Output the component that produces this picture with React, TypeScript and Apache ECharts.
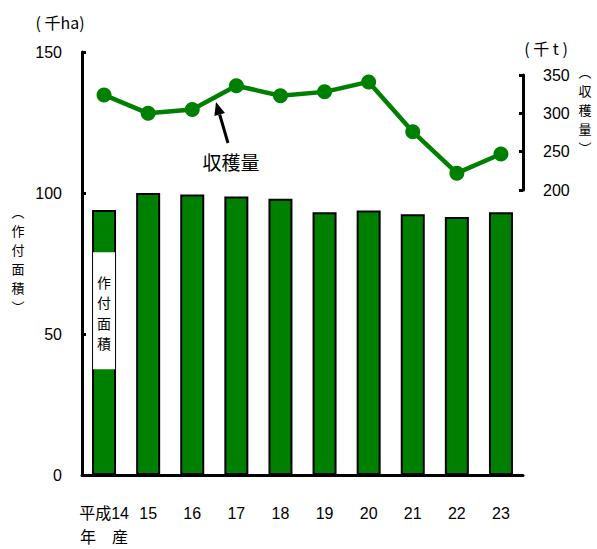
import React, { useEffect, useRef } from "react";
import * as echarts from "echarts";

const categories = ["14", "15", "16", "17", "18", "19", "20", "21", "22", "23"];
const areaValues = [94, 100, 99.5, 98.8, 98, 93.2, 93.8, 92.5, 91.5, 93.2];
const harvestValues = [324, 300, 305, 336, 323, 328, 341, 276, 222, 247];
const leftTicks = { min: 0, max: 150, interval: 50 };
const rightTicks = { min: 200, max: 350, interval: 50 };
const boxRange = [79, 37.5];

const FONT = "'Liberation Sans', 'Noto Sans CJK JP', sans-serif";
const CJK = "'Noto Sans CJK JP', sans-serif";
const GREEN = "#008000";

export default function App() {
  const ref = useRef<HTMLDivElement>(null);
  useEffect(() => {
    if (!ref.current) return;
    const chart = echarts.init(ref.current, null, { renderer: "svg" });
    const option: any = {
      animation: false,
      textStyle: { fontFamily: FONT, color: "#000" },
      grid: [
        { left: 82, right: 74, top: 52, bottom: 69 },
        { left: 82, right: 74, top: 75, height: 115 },
      ],
      xAxis: [
        {
          type: "category",
          gridIndex: 0,
          data: categories,
          axisLine: { lineStyle: { color: "#000", width: 3 } },
          axisTick: { show: false },
          axisLabel: {
            interval: 0,
            fontSize: 16,
            lineHeight: 24,
            margin: 26,
            color: "#000",
            fontFamily: FONT,
            formatter: (v: string, i: number) => (i === 0 ? "平成" + v + "\n年　産" : v),
          },
        },
        {
          type: "category",
          gridIndex: 1,
          data: categories,
          show: false,
        },
      ],
      yAxis: [
        {
          type: "value",
          gridIndex: 0,
          min: leftTicks.min,
          max: leftTicks.max,
          interval: leftTicks.interval,
          splitLine: { show: false },
          axisLine: { show: true, lineStyle: { color: "#000", width: 3 } },
          axisTick: { show: true, inside: true, length: 4, lineStyle: { color: "#000", width: 3 } },
          axisLabel: { fontSize: 16, margin: 20, color: "#000", fontFamily: FONT },
        },
        {
          type: "value",
          gridIndex: 1,
          position: "right",
          min: rightTicks.min,
          max: rightTicks.max,
          interval: rightTicks.interval,
          splitLine: { show: false },
          axisLine: { show: true, lineStyle: { color: "#000", width: 3 } },
          axisTick: { show: true, inside: true, length: 4, lineStyle: { color: "#000", width: 3 } },
          axisLabel: { fontSize: 16, margin: 20, color: "#000", fontFamily: FONT },
        },
      ],
      series: [
        {
          type: "bar",
          xAxisIndex: 0,
          yAxisIndex: 0,
          data: areaValues,
          barWidth: 24,
          itemStyle: { color: GREEN, borderColor: "#000", borderWidth: 2 },
          z: 2,
        },
        {
          type: "line",
          xAxisIndex: 1,
          yAxisIndex: 1,
          data: harvestValues,
          symbol: "circle",
          symbolSize: 15,
          lineStyle: { color: GREEN, width: 4.5 },
          itemStyle: { color: GREEN },
          z: 5,
        },
      ],
    };
    chart.setOption(option);

    const pTop = chart.convertToPixel({ xAxisIndex: 0, yAxisIndex: 0 }, [0, boxRange[0]]) as number[];
    const pBot = chart.convertToPixel({ xAxisIndex: 0, yAxisIndex: 0 }, [0, boxRange[1]]) as number[];
    const cx = pTop[0];

    // arrow geometry
    const tip = [216, 102];
    const tail = [228, 143];
    const dx = tip[0] - tail[0];
    const dy = tip[1] - tail[1];
    const len = Math.sqrt(dx * dx + dy * dy);
    const ux = dx / len;
    const uy = dy / len;
    const hl = 13;
    const hw = 5.5;
    const bx = tip[0] - ux * hl;
    const by = tip[1] - uy * hl;

    const vText = (text: string, x: number, y: number, size: number, lh: number, z = 1) => ({
      type: "text",
      x,
      y,
      z,
      style: {
        text,
        fontSize: size,
        lineHeight: lh,
        fontFamily: CJK,
        fill: "#000",
        align: "center",
        verticalAlign: "middle",
      },
    });

    chart.setOption({
      graphic: [
        {
          type: "rect",
          shape: { x: cx - 11, y: pTop[1], width: 22, height: pBot[1] - pTop[1] },
          style: { fill: "#fff" },
          z: 10,
        },
        vText("作\n付\n面\n積", cx, (pTop[1] + pBot[1]) / 2 + 2, 14, 20.5, 11),
        {
          type: "text",
          x: 60,
          y: 22,
          style: {
            text: "( 千ha)",
            fontSize: 16,
            fontFamily: CJK,
            fill: "#000",
            align: "center",
            verticalAlign: "middle",
          },
        },
        {
          type: "text",
          x: 546,
          y: 48,
          style: {
            text: "( 千 t )",
            fontSize: 16,
            fontFamily: CJK,
            fill: "#000",
            align: "center",
            verticalAlign: "middle",
          },
        },
        vText("︵\n作\n付\n面\n積\n︶", 18, 259, 13, 19),
        vText("︵\n収\n穫\n量\n︶", 585, 109, 13, 19),
        {
          type: "line",
          shape: { x1: tail[0], y1: tail[1], x2: bx, y2: by },
          style: { stroke: "#000", lineWidth: 3 },
          z: 8,
        },
        {
          type: "polygon",
          shape: {
            points: [
              [tip[0], tip[1]],
              [bx - uy * hw, by + ux * hw],
              [bx + uy * hw, by - ux * hw],
            ],
          },
          style: { fill: "#000" },
          z: 8,
        },
        {
          type: "text",
          x: 231,
          y: 161,
          style: {
            text: "収穫量",
            fontSize: 19,
            fontFamily: CJK,
            fill: "#000",
            align: "center",
            verticalAlign: "middle",
          },
        },
      ],
    });

    return () => chart.dispose();
  }, []);
  return (
    <div
      ref={ref}
      style={{ position: "fixed", left: 0, top: 0, width: 597, height: 549, background: "#fff" }}
    />
  );
}
